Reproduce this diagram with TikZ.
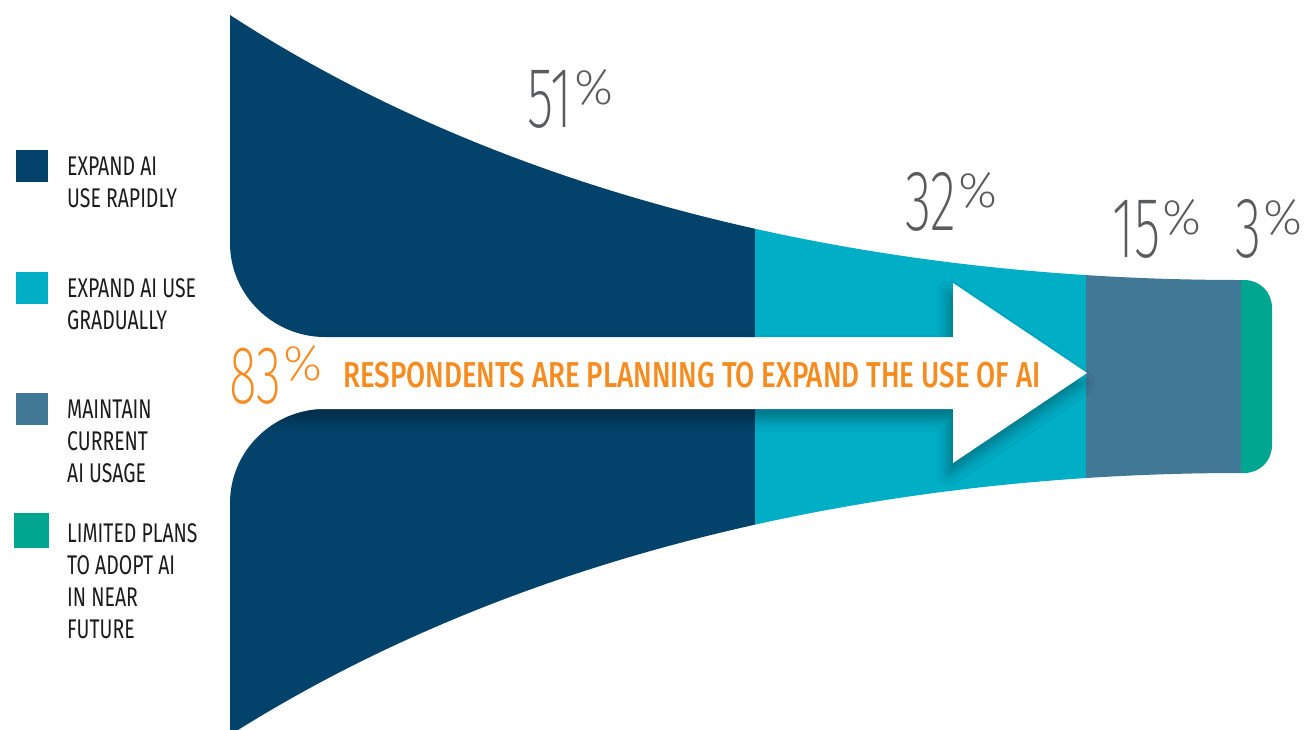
\documentclass[tikz,border=0pt]{standalone}
\usepackage{fontspec}
\setmainfont{Fira Sans}
\newfontfamily\condfont{Fira Sans}[FakeStretch=0.72]
\newfontfamily\msgfont{Fira Sans Medium}[FakeStretch=0.77]
\newfontfamily\thinfont{Fira Sans ExtraLight}[FakeStretch=0.63]
\newfontfamily\signfont{Fira Sans ExtraLight}
\usetikzlibrary{shadows.blur}

\definecolor{navy}{HTML}{03426A}
\definecolor{aqua}{HTML}{00AEC6}
\definecolor{slate}{HTML}{417896}
\definecolor{teal}{HTML}{00A68F}
\definecolor{tangerine}{HTML}{F68B1F}
\definecolor{pctgray}{HTML}{5A5B5D}
\definecolor{legink}{HTML}{1C1C1C}

\tikzset{
  legbox/.style={minimum size=32pt, inner sep=0pt},
  legtext/.style={anchor=north west, inner sep=0pt, align=left, text=legink,
    font=\condfont\fontsize{27}{32}\selectfont},
  pct/.style={anchor=base west, inner sep=0pt, text=pctgray,
    font=\thinfont\fontsize{86}{86}\selectfont},
}
\newcommand{\pcsign}{\kern2pt{\signfont\fontsize{50}{50}\selectfont\raisebox{23pt}{\%}}}

\begin{document}
\begin{tikzpicture}[x=1pt, y=-1pt]
\useasboundingbox (0,0) rectangle (1305,729);
\fill[white] (0,0) rectangle (1305,729);

% funnel outline with the notch for the arrow shaft
\begin{scope}
\clip (230,15) .. controls (530,210) and (900,280) .. (1241,280)
  -- (1244,280) .. controls (1260,280) and (1272,292) .. (1272,308)
  -- (1272,445) .. controls (1272,461) and (1260,473) .. (1244,473)
  -- (1241,473) .. controls (900,473) and (530,545) .. (230,735)
  -- (230,503) .. controls (230,451) and (273,409) .. (325,409)
  -- (953,409) -- (953,337) -- (325,337)
  .. controls (273,337) and (230,295) .. (230,243) -- cycle;
\fill[navy] (220,0) rectangle (755,740);
\fill[aqua] (755,0) rectangle (1086,740);
\fill[slate] (1086,0) rectangle (1241,740);
\fill[teal] (1241,0) rectangle (1280,740);
% white arrow with its shadow
\fill[white, blur shadow={shadow xshift=-4pt, shadow yshift=-10pt,
    shadow blur radius=12pt, shadow opacity=35}]
  (220,337) -- (953,337) -- (953,283) -- (1087,373) -- (953,463)
  -- (953,409) -- (220,409) -- cycle;
\end{scope}

% percentages
\node[pct] (pA) at (527,127) {51\pcsign};
\node[pct] (pB) at (905,230) {32\pcsign};
\node[pct] (pC) at (1112,257) {15\pcsign};
\node[pct] (pD) at (1235,257) {3\pcsign};

% message in the arrow
\node[pct, text=tangerine, font=\thinfont\fontsize{82}{82}\selectfont] (total) at (229,403) {83\pcsign};
\node[anchor=base west, inner sep=0pt, text=tangerine, font=\msgfont\fontsize{36}{36}\selectfont] (msg) at (343,387) {RESPONDENTS ARE PLANNING TO EXPAND THE USE OF AI};

% legend
\node[legbox, fill=navy] (k1) at (32,166) {};
\node[legtext] (l1) at (67,157) {EXPAND AI\\USE RAPIDLY};
\node[legbox, fill=aqua] (k2) at (32,288) {};
\node[legtext] (l2) at (67,278) {EXPAND AI USE\\GRADUALLY};
\node[legbox, fill=slate] (k3) at (32,409) {};
\node[legtext] (l3) at (67,400) {MAINTAIN\\CURRENT\\AI USAGE};
\node[legbox, fill=teal, minimum size=35pt] (k4) at (31,530) {};
\node[legtext] (l4) at (67,523) {LIMITED PLANS\\TO ADOPT AI\\IN NEAR\\FUTURE};
\end{tikzpicture}
\end{document}
